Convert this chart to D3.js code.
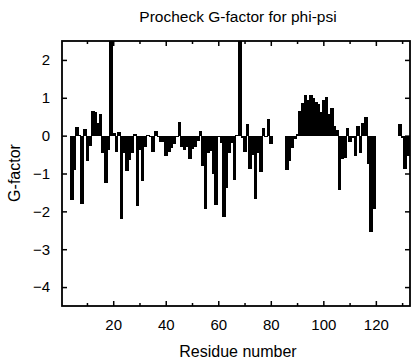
<!DOCTYPE html>
<html><head><meta charset="utf-8">
<script src="https://cdn.jsdelivr.net/npm/d3@7"></script>
<style>body{margin:0;background:#fff}svg{display:block}text{font-family:"Liberation Sans",Arial,Helvetica,sans-serif}</style>
</head><body><svg id="c" width="416" height="360"></svg>
<script>
const residues = [4,5,6,7,8,9,10,11,12,13,14,15,16,17,18,19,20,21,22,23,24,25,26,27,28,29,30,31,32,33,34,35,36,37,38,39,40,41,42,43,44,45,46,47,48,49,50,51,52,53,54,55,56,57,58,59,60,61,62,63,64,65,66,67,68,69,70,71,72,73,74,75,76,77,78,79,80,86,87,88,89,90,91,92,93,94,95,96,97,98,99,100,101,102,103,104,105,106,107,108,109,110,111,112,113,114,115,116,117,118,119,129,130,131,132];
const gfactor = [-1.70,-0.92,0.22,0.03,-1.80,0.17,-0.66,-0.27,0.65,0.62,0.33,0.56,-0.45,-1.25,-0.38,2.6,0.06,-0.42,0.10,-2.20,-0.46,-0.94,-0.65,-0.46,0.05,-1.86,-0.38,-1.20,-0.30,0.03,-0.03,-0.42,0.13,-0.04,-0.16,-0.16,-0.53,-0.44,-0.33,-0.22,-0.04,0.35,-0.30,-0.37,-0.30,-0.63,-0.34,-0.29,-0.15,0.12,-0.81,-1.93,-0.46,-0.40,-1.00,-1.82,-0.04,-0.20,-2.16,-1.38,-0.46,-0.20,-1.16,0.02,2.6,-0.07,-0.44,0.32,-0.88,-0.50,-1.68,-0.45,-0.95,0.19,-0.04,0.45,-0.22,-0.90,-0.68,-0.33,-0.10,0.05,0.65,0.85,1.07,0.95,1.08,1.00,0.90,0.84,0.63,0.95,1.02,0.58,0.74,0.25,0.15,-1.44,-0.61,-0.60,0.19,-0.16,-0.06,-0.55,0.25,-0.45,0.34,0.50,-0.74,-2.54,-1.95,0.32,-0.05,-0.87,-0.54];
const xTicks = [20,40,60,80,100,120];
const xMinor = [10,30,50,70,90,110,130];
const yTicks = [2,1,0,-1,-2,-3,-4];
const title = "Procheck G-factor for phi-psi";
const xLabel = "Residue number";
const yLabel = "G-factor";

const L=62,R=410,T=41,B=306;
const svg=d3.select("#c");
const x=d3.scaleLinear().domain([0.5,133]).range([L,R]);
const y=d3.scaleLinear().domain([-4.5,2.5]).range([B,T]);
const w=x(1)-x(0);

svg.append("clipPath").attr("id","clip").append("rect").attr("x",L).attr("y",T).attr("width",R-L).attr("height",B-T);
svg.append("g").attr("clip-path","url(#clip)").attr("shape-rendering","crispEdges").selectAll("rect").data(residues).join("rect")
  .attr("x",(d)=>Math.round(x(d)-w/2)).attr("width",(d)=>Math.round(x(d)+w/2)-Math.round(x(d)-w/2)+0.5)
  .attr("y",(d,i)=>y(Math.max(0,gfactor[i])))
  .attr("height",(d,i)=>Math.max(1,Math.abs(y(gfactor[i])-y(0))))
  .attr("fill","#000");

const ax=svg.append("g");
ax.append("g").attr("transform",`translate(0,${B})`).call(d3.axisBottom(x).tickValues(xTicks).tickSize(-5).tickPadding(13).tickFormat(d3.format("d")));
ax.append("g").attr("transform",`translate(0,${B})`).call(d3.axisBottom(x).tickValues(xMinor).tickSize(-3).tickFormat(""));
ax.append("g").attr("transform",`translate(0,${T})`).call(d3.axisTop(x).tickValues(xTicks).tickSize(-5).tickFormat(""));
ax.append("g").attr("transform",`translate(0,${T})`).call(d3.axisTop(x).tickValues(xMinor).tickSize(-3).tickFormat(""));
ax.append("g").attr("transform",`translate(${L},0)`).call(d3.axisLeft(y).tickValues(yTicks).tickSize(-5).tickPadding(12).tickFormat(d3.format("d")));
ax.append("g").attr("transform",`translate(${R},0)`).call(d3.axisRight(y).tickValues(yTicks).tickSize(-5).tickFormat(""));
ax.selectAll(".domain").remove();
ax.selectAll(".tick line").attr("stroke","#000").attr("stroke-width",1.5);
ax.selectAll(".tick text").attr("font-size",15).attr("fill","#000").attr("font-family","Liberation Sans, Arial, sans-serif");
svg.append("rect").attr("x",L).attr("y",T).attr("width",R-L).attr("height",B-T).attr("fill","none").attr("stroke","#000").attr("stroke-width",1.8);

svg.append("text").attr("x",238).attr("y",22).attr("text-anchor","middle").attr("font-size",15.5).text(title);
svg.append("text").attr("x",238).attr("y",357).attr("text-anchor","middle").attr("font-size",16).text(xLabel);
svg.append("text").attr("transform","translate(20,173) rotate(-90)").attr("text-anchor","middle").attr("font-size",16).text(yLabel);
</script></body></html>
